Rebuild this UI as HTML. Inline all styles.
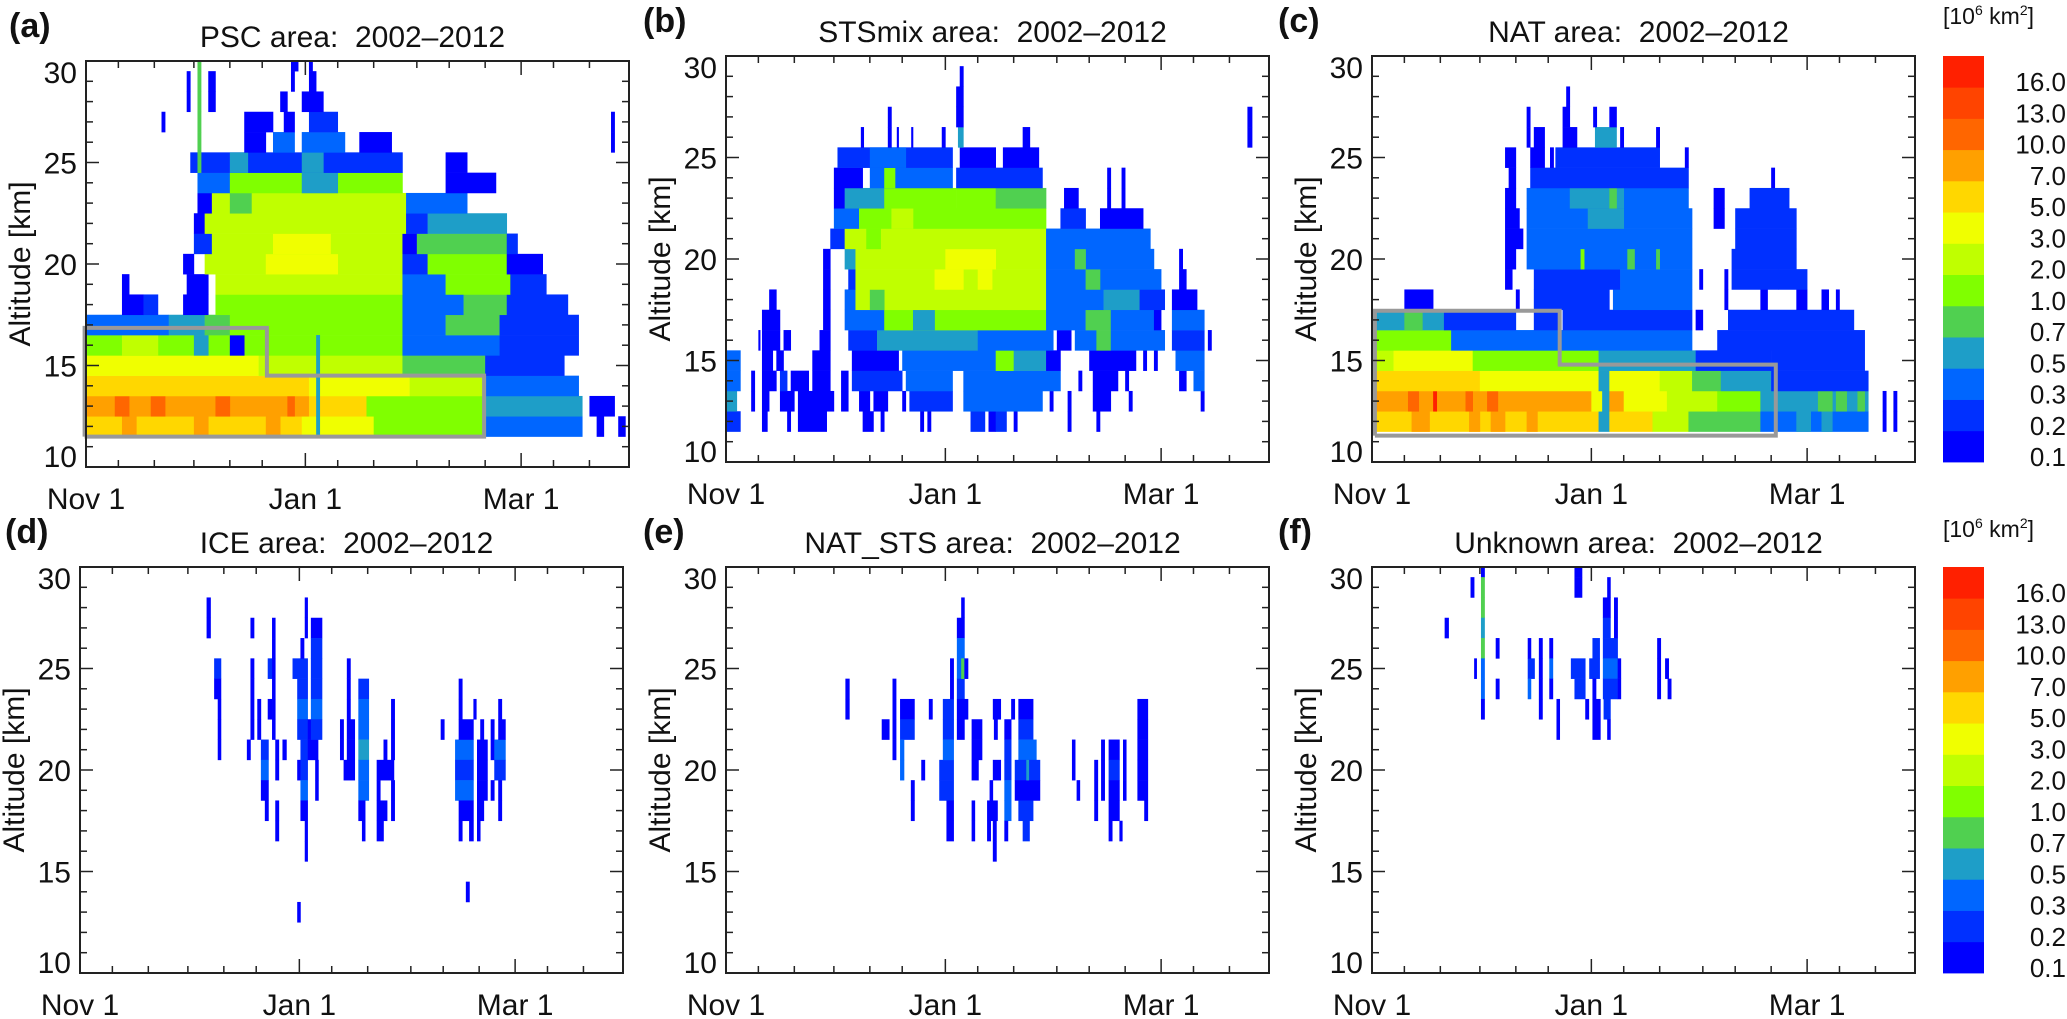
<!DOCTYPE html>
<html><head><meta charset="utf-8">
<style>
html,body{margin:0;padding:0;background:#fff;}
svg{display:block;font-family:"Liberation Sans",Arial,sans-serif;}
</style></head>
<body>
<svg id="fig" width="2067" height="1019" viewBox="0 0 2067 1019" xmlns="http://www.w3.org/2000/svg"></svg>
<script>
// ---------- shared data ----------
const levelLabels = ["0.1","0.2","0.3","0.5","0.7","1.0","2.0","3.0","5.0","7.0","10.0","13.0","16.0"];
const palette = ["#0000ff","#0030ff","#0066ff","#1e9ec8","#50d050","#80ff00","#c0ff00","#f0ff00","#ffd700","#ffa000","#ff6600","#ff4400","#ff2000"];
const xTickDays = [0,9,19,30,40,49,61,70,80,92,101,111,121,130,140];
const xMajorDays = [0,61,121];
const xMajorLabels = ["Nov 1","Jan 1","Mar 1"];
const yTickKm = [10,15,20,25,30];
const titles = ["PSC area:  2002\u20132012","STSmix area:  2002\u20132012","NAT area:  2002\u20132012","ICE area:  2002\u20132012","NAT_STS area:  2002\u20132012","Unknown area:  2002\u20132012"];
const panelLetters = ["(a)","(b)","(c)","(d)","(e)","(f)"];

// cells: [altitude-bin centre km, day start, day end, colour level]
const pscCells = [
[12,0,60,8],[12,10,14,9],[12,30,34,9],[12,50,54,9],[12,60,80,7],[12,80,111,5],[12,111,138,2],[12,142,144,0],[12,148,150,0],
[13,0,62,9],[13,8,12,10],[13,18,22,10],[13,36,40,10],[13,56,58,10],[13,62,78,8],[13,78,111,5],[13,111,138,3],[13,140,147,0],
[14,0,62,8],[14,62,90,7],[14,90,111,6],[14,111,137,2],
[15,0,48,7],[15,48,88,6],[15,88,111,4],[15,111,133,1],
[16,0,49,5],[16,10,20,6],[16,30,34,3],[16,40,44,0],[16,49,88,5],[16,88,115,2],[16,115,137,1],
[17,0,23,2],[17,23,33,3],[17,33,40,4],[17,40,88,5],[17,88,100,2],[17,100,115,4],[17,115,137,1],
[18,10,16,0],[18,16,20,1],[18,27,34,0],[18,36,88,5],[18,88,105,2],[18,105,117,4],[18,117,134,1],
[19,10,12,0],[19,28,34,0],[19,36,88,6],[19,88,100,2],[19,100,118,5],[19,118,128,1],
[20,27,30,0],[20,33,88,6],[20,50,70,7],[20,88,95,1],[20,95,117,5],[20,117,127,0],
[21,30,35,1],[21,35,88,6],[21,52,68,7],[21,88,92,0],[21,92,117,4],[21,117,120,1],
[22,30,33,0],[22,33,89,6],[22,89,95,1],[22,95,117,3],
[23,31,35,0],[23,35,89,6],[23,40,46,4],[23,89,106,2],
[24,31,40,2],[24,40,88,5],[24,60,70,3],[24,100,114,0],
[25,29,88,1],[25,40,45,3],[25,60,66,3],[25,100,106,0],
[26,44,50,0],[26,52,58,2],[26,60,72,2],[26,76,85,0],[26,146,147,0],
[27,21,22,0],[27,44,52,0],[27,55,58,0],[27,62,70,1],[27,146,147,0],
[28,28,29,0],[28,34,36,0],[28,54,56,0],[28,60,66,0],
[29,28,29,0],[29,34,36,0],[29,57,58,0],[29,62,64,0],
[30,57,59,0],[30,62,63,0],
[12,64,65,3],[13,64,65,3],[14,64,65,3],[15,64,65,3],[16,64,65,3],
[25,31,32,4],[26,31,32,4],[27,31,32,4],[28,31,32,4],[29,31,32,4],[30,31,32,4]
];
const stsCells = [
[12,0,4,1],[12,10,11.5,0],[12,17,18,0],[12,20,28,0],[12,38,41,0],[12,43,44,0],[12,54,55,0],[12,56,57,0],[12,68,72,1],[12,73,75,0],[12,75,78,1],[12,80,81,0],[12,95,96,0],[12,103,104,0],
[13,0,3,3],[13,7,8,0],[13,10,12,0],[13,15,19,0],[13,20,30,0],[13,32,34,0],[13,37,40,0],[13,41,45,0],[13,49,50,0],[13,51,63,1],[13,66,88,2],[13,90,91,0],[13,95,96,0],[13,102,107,0],[13,112,113,0],[13,132,133,0],
[14,0,4,2],[14,7,8,0],[14,10,14,0],[14,15,17,1],[14,18,23,0],[14,24,29,0],[14,32,34,0],[14,35,49,1],[14,50,63,2],[14,66,93,2],[14,98,99,0],[14,102,109,0],[14,111,112,0],[14,126,128,0],[14,130,133,2],
[15,0,4,2],[15,10,13,0],[15,14,16,0],[15,24,29,0],[15,35,48,0],[15,49,75,2],[15,75,80,5],[15,80,89,3],[15,89,93,0],[15,101,114,0],[15,116,117,0],[15,119,120,0],[15,125,133,2],
[16,9,9.5,0],[16,10,15,0],[16,16,18,0],[16,26,29,0],[16,34,42,1],[16,42,70,3],[16,70,91,2],[16,92,96,0],[16,97,103,2],[16,103,107,4],[16,107,122,2],[16,124,133,1],[16,134,135,0],
[17,10,15,0],[17,27,29,0],[17,33,44,2],[17,44,89,5],[17,52,58,3],[17,89,100,2],[17,100,107,4],[17,107,119,2],[17,119,121,0],[17,124,133,2],
[18,12,14,0],[18,27,29,0],[18,33,36,2],[18,36,89,6],[18,40,44,4],[18,89,105,2],[18,105,115,3],[18,115,122,1],[18,124,131,0],
[19,27,29,0],[19,34,36,1],[19,36,89,6],[19,58,66,7],[19,70,74,7],[19,89,121,2],[19,100,104,4],[19,126,128,0],
[20,27,29,0],[20,33,36,3],[20,36,89,6],[20,61,75,7],[20,89,119,2],[20,97,100,4],[20,126,127,0],
[21,29,33,1],[21,33,89,6],[21,39,43,5],[21,89,118,2],
[22,30,37,2],[22,37,89,5],[22,46,52,6],[22,93,100,1],[22,104,116,0],
[23,30,33,0],[23,33,44,3],[23,44,64,5],[23,64,75,5],[23,75,89,4],[23,94,98,0],[23,106,107,0],[23,110,111,0],
[24,30,38,0],[24,40,63,2],[24,44,47,5],[24,64,88,1],[24,106,107,0],[24,110,111,0],
[25,31,63,1],[25,40,50,2],[25,65,75,0],[25,77,87,0],
[26,37.5,38.3,0],[26,45,46,0],[26,47.5,48,0],[26,51.5,52,0],[26,60,61,0],[26,64.5,66,3],[26,82.5,84.5,0],[26,145,146.3,0],
[27,45,46,0],[27,64,66,0],[27,145,146.3,0],
[28,64,66,0],[29,65,66,0]
];
const natCells = [
[12,0,63,8],[12,11,16,9],[12,27,30,9],[12,33,37,9],[12,43,46,9],[12,63,66,3],[12,66,78,8],[12,78,88,6],[12,88,108,4],[12,108,138,2],[12,118,122,3],[12,125,128,3],[12,142,143,0],[12,145,146,0],
[13,0,61,9],[13,10,13,10],[13,17,18,12],[13,26,28,10],[13,32,35,10],[13,61,64,7],[13,64,66,3],[13,66,70,9],[13,70,82,7],[13,82,96,6],[13,96,108,5],[13,108,138,3],[13,124,128,4],[13,129,132,4],[13,135,137,4],[13,142,143,0],[13,145,146,0],
[14,0,30,8],[14,30,63,7],[14,63,66,3],[14,66,80,7],[14,80,89,6],[14,89,97,4],[14,97,111,3],[14,111,138,1],
[15,0,6,6],[15,6,28,7],[15,28,63,5],[15,63,90,3],[15,90,111,1],[15,111,137,1],
[16,0,22,5],[16,22,52,2],[16,52,89,2],[16,96,137,1],
[17,0,20,3],[17,9,14,4],[17,20,40,1],[17,45,52,1],[17,53,89,1],[17,90,92,0],[17,99,134,1],
[18,9,17,0],[18,40,41,0],[18,45,66,1],[18,67,89,2],[18,98,99,0],[18,108,110,0],[18,118,121,0],[18,125,127,0],[18,129,130,0],
[19,37,39,0],[19,45,69,1],[19,69,89,2],[19,91,92,0],[19,98,99,0],[19,100,113,1],[19,113,121,1],
[20,37,40,0],[20,43,89,2],[20,58,59,5],[20,71,73,4],[20,79,80,4],[20,100,118,1],
[21,37,42,0],[21,43,89,2],[21,101,118,1],
[22,37,41,0],[22,43,89,2],[22,60,70,3],[22,95,98,0],[22,101,118,1],
[23,37,40,0],[23,43,88,2],[23,55,70,3],[23,66,68,4],[23,95,98,0],[23,105,116,1],
[24,38,40,0],[24,44,88,1],[24,111,112,0],
[25,37,40,0],[25,44,48,0],[25,49.5,50.5,0],[25,51,80,1],[25,87,88,0],
[26,43,44,0],[26,45,48,0],[26,53,57,0],[26,62,68,3],[26,69,70,0],[26,79,80,0],
[27,43,44,0],[27,53,55,0],[27,61.5,62.5,0],[27,66,68,0],
[28,54,55,0]
];
const iceCells = [
[28,35.2,36.3,0],[27,35.2,36.3,0],
[25,37.3,39.2,1],[24,37.3,39.2,0],[23,38.3,39.2,0],[22,38.3,39.2,0],[21,38.3,39.2,0],
[27,47.4,48.4,0],[25,47.4,48.4,0],[24,47.4,48.4,0],[23,47.4,48.4,0],[22,47.4,48.4,0],[21,46.4,47.4,0],
[23,49.3,50.3,0],[22,49.3,50.3,0],
[21,50.3,52.4,1],[20,50.3,52.4,2],[19,50.3,52.4,0],[18,51.4,52.4,0],
[25,52.2,53.4,1],[23,52.2,53.4,0],
[27,53.4,54.3,0],[26,53.4,54.3,0],[25,53.4,54.3,0],[24,53.4,54.3,0],[23,53.4,54.3,0],[22,53.4,54.3,0],
[21,54.3,55.3,0],[20,54.3,55.3,0],[18,54.3,55.3,0],[17,54.3,55.3,0],[21,56.3,57.4,0],
[25,59.1,63.3,1],[24,60.4,63.3,1],[23,60.4,63.3,2],[22,60.4,63.3,1],[26,61.3,62.3,0],[28,62.5,63.3,0],[27,62.5,63.3,0],
[20,60.4,61.3,0],[21,61.3,63.3,1],[20,61.3,63.3,1],[19,61.3,63.3,2],[18,61.3,63.3,0],[17,62.5,63.3,0],[16,62.5,63.3,0],
[22,63.3,66.2,0],[21,63.3,66.2,0],
[27,64.2,67.3,0],[26,64.2,67.3,1],[25,64.2,67.3,1],[24,64.2,67.3,1],[23,64.2,67.3,2],[22,64.2,67.3,1],[20,65.4,66.3,0],[19,65.4,66.3,0],
[13,60.4,61.3,0],
[22,72.3,73.3,0],[21,72.3,73.3,0],[20,73.3,76.4,0],[22,74.2,76.4,0],[21,74.2,76.4,0],[25,74.2,75.2,0],[24,74.2,75.2,0],[23,74.2,75.2,0],
[24,77.4,80.3,1],[23,77.4,80.3,2],[22,77.4,80.3,2],[21,77.4,80.3,3],[20,77.4,80.3,2],[19,77.4,80.3,2],[18,77.4,79.3,0],[17,78.4,79.3,0],
[20,82.5,87.3,0],[19,82.5,83.5,0],[18,82.5,85.4,0],[17,82.5,84.4,0],[21,84.4,85.4,0],
[23,86.5,87.5,0],[22,86.5,87.5,0],[21,86.5,87.5,0],[19,86.5,87.5,0],[18,86.5,87.5,0],
[22,100.3,101.3,0],
[21,104.3,109.4,2],[20,104.3,109.4,1],[19,104.3,109.4,2],[24,105.3,106.3,0],[23,105.3,106.3,0],[22,105.3,109.4,0],[23,109.4,110.2,0],
[18,105.3,109.4,0],[17,105.3,106.3,0],[17,108.2,109.4,0],
[21,110.4,113.3,0],[20,110.4,113.3,0],[19,110.4,113.3,0],[18,110.4,112.3,0],[17,110.4,111.3,0],[22,111.3,112.3,0],
[22,114.2,115.2,0],[21,114.2,115.2,0],[19,114.2,115.2,0],
[21,115.2,118.3,2],[20,115.2,118.3,1],[22,116.3,118.3,0],[23,116.3,117.3,0],[19,116.3,117.3,0],[18,116.3,117.3,0],
[14,107.3,108.3,0]
];
const natStsCells = [
[24,33.2,34.3,0],[23,33.2,34.3,0],
[22,43.3,45.4,0],
[24,46.3,47.3,0],[23,46.3,47.3,0],[22,46.3,47.3,0],[21,46.3,47.3,0],
[23,48.4,52.4,0],[22,48.4,52.4,1],[21,48.4,49.5,2],[20,48.4,49.5,2],
[19,51.4,52.4,0],[18,51.4,52.4,0],
[20,54.3,55.3,0],[23,56.4,57.4,0],
[20,59.3,63.3,1],[19,59.3,63.3,1],[23,60.3,63.3,1],[22,60.3,63.3,1],[21,60.3,63.3,2],
[18,61.3,63.3,0],[17,61.3,63.3,0],[24,62.3,63.3,0],[25,62.3,63.3,0],
[27,64.2,66.3,0],[26,64.2,66.3,2],[25,64.2,66.3,2],[24,64.2,66.3,1],[23,64.2,66.3,0],[22,64.2,66.3,0],[25,65.4,66.2,4],[28,65.4,66.3,0],
[25,66.3,67.3,0],[23,65.4,67.3,0],
[22,68.3,71.2,0],[21,68.3,71.2,0],[20,68.3,70.2,0],[18,68.3,69.2,0],[17,68.3,69.2,0],
[18,72.6,75.5,0],[19,73.3,74.2,0],[17,72.6,73.6,0],[17,74.2,75.2,0],[16,74.2,75.2,0],
[23,74.2,76.4,0],[22,74.5,75.5,0],[20,74.2,76.4,0],
[22,77.4,79.3,0],[21,77.4,79.3,1],[20,77.4,79.3,1],[19,77.4,79.3,2],[18,77.4,79.3,2],[17,77.4,78.4,0],[23,79.3,80.3,0],
[23,81.3,85.4,0],[22,81.3,85.4,1],[21,81.3,86.3,2],[20,80.3,87.3,1],[19,80.3,87.3,0],[20,83.5,84.2,3],[18,81.3,85.4,1],[17,82.5,84.4,1],
[21,96.2,97.1,0],[20,96.2,97.1,0],[19,97.5,98.4,0],
[20,102.4,103.4,0],[19,102.4,103.4,0],[18,102.4,103.4,0],
[21,104.3,105.3,0],[20,104.3,105.3,0],[19,104.3,105.3,0],
[21,106.4,109.4,0],[20,106.4,109.4,1],[19,106.4,109.4,0],[18,106.4,109.4,0],[17,106.4,107.4,0],[17,109.4,110.2,0],
[21,110.4,111.3,0],[20,110.4,111.3,0],[19,110.4,111.3,0],
[23,114.4,117.3,0],[22,114.4,117.3,0],[21,114.4,117.3,0],[20,114.4,117.3,0],[19,114.4,117.3,0],[18,116.3,117.3,0]
];
const unknownCells = [
[30,30.3,31.3,0],[29,30.3,31.3,4],[28,30.3,31.3,4],[27,30.3,31.3,3],[26,30.3,31.3,4],[25,30.3,31.3,2],[24,30.3,31.3,2],[23,30.3,31.3,0],
[29,27.4,28.4,0],[27,20.2,21.3,0],[25,28.4,29.1,0],
[26,34.4,35.4,0],[24,34.4,35.4,0],
[25,43.3,45.2,1],[26,43.3,44.2,0],[24,43.3,44.2,2],
[26,46.4,47.4,0],[25,46.4,47.4,0],[24,46.4,47.4,0],[23,46.4,47.4,0],
[26,49.3,50.3,0],[25,49.3,50.3,2],[24,49.3,50.3,0],
[23,51.3,52.2,0],[22,51.3,52.2,0],
[25,55.3,59.3,1],[24,56.3,59.3,1],[30,56.3,58.4,0],[29,56.3,58.4,0],
[23,59.3,60.3,0],
[25,60.4,63.3,1],[26,61.3,63.3,1],[24,61.3,62.3,0],[23,61.3,63.5,0],[22,61.3,63.5,0],
[26,64.2,68.3,1],[25,64.2,68.3,2],[24,64.2,68.3,1],[28,64.2,66.3,0],[27,64.2,66.3,1],[29,65.4,66.3,0],[28,67.3,68.3,0],[27,67.3,68.3,0],
[23,64.4,66.3,1],[22,65.4,66.3,0],
[25,68.3,69.2,0],[24,68.3,69.2,0],
[26,79.3,80.3,0],[25,79.3,80.3,0],[24,79.3,80.3,0],
[25,81.5,82.5,0],[24,82.2,83.2,0]
];
// grey boxes: [day, km] vertices
const pscBox = [[-0.4,11.5],[-0.4,16.85],[50.3,16.85],[50.3,14.5],[110.7,14.5],[110.7,11.5],[-0.4,11.5]];
const natBox = [[0.8,11.3],[0.8,17.45],[52.2,17.45],[52.2,14.8],[112.3,14.8],[112.3,11.3],[0.8,11.3]];

// ---------- layout ----------
const DAYS = 151;
const panels = [
 {id:"psc", cells:pscCells, box:pscBox, x0:86, x1:629, y0:61, y1:467, lx:9},
 {id:"stsmix", cells:stsCells, box:null, x0:726, x1:1269, y0:56, y1:462, lx:643},
 {id:"nat", cells:natCells, box:natBox, x0:1372, x1:1915, y0:56, y1:462, lx:1278},
 {id:"ice", cells:iceCells, box:null, x0:80, x1:623, y0:567, y1:973, lx:5},
 {id:"nat-sts", cells:natStsCells, box:null, x0:726, x1:1269, y0:567, y1:973, lx:643},
 {id:"unknown", cells:unknownCells, box:null, x0:1372, x1:1915, y0:567, y1:973, lx:1278}
];
const NS = "http://www.w3.org/2000/svg";
const svg = document.getElementById("fig");
function mk(tag, attrs, parent){
  const e = document.createElementNS(NS, tag);
  for (const k in attrs) e.setAttribute(k, attrs[k]);
  (parent||svg).appendChild(e);
  return e;
}
panels.forEach((p, i) => {
  const xs = d => p.x0 + (d/DAYS)*(p.x1-p.x0);
  const ys = km => p.y1 - ((km-10)/20)*(p.y1-p.y0);
  const g = mk("g", {});
  
  
  const clipId = "clip" + i;
  const cp = mk("clipPath", {id: clipId}, g);
  mk("rect", {x:p.x0, y:p.y0, width:p.x1-p.x0, height:p.y1-p.y0}, cp);
  const cg = mk("g", {"clip-path":"url(#"+clipId+")"}, g);
  
  
  p.cells.forEach(c => {
    const xa = xs(c[1]), xb = xs(c[2]);
    const ya = ys(c[0]+0.5), yb = ys(c[0]-0.5);
    const r = mk("rect", {x:xa.toFixed(2), y:ya.toFixed(2), width:(xb-xa+0.3).toFixed(2), height:(yb-ya+0.3).toFixed(2), fill:palette[c[3]]}, cg);
    
    
  });
  if (p.box) {
    const pl = mk("polyline", {points:p.box.map(v => xs(v[0]).toFixed(1)+","+ys(v[1]).toFixed(1)).join(" "), fill:"none", stroke:"#999", "stroke-width":4, "stroke-linejoin":"miter"}, g);
    
    
  }
  const fr = mk("rect", {x:p.x0, y:p.y0, width:p.x1-p.x0, height:p.y1-p.y0, fill:"none", stroke:"#222", "stroke-width":2}, g);
  
  
  xTickDays.forEach(d => {
    const x = xs(d); const L = xMajorDays.includes(d) ? 14 : 7;
    mk("line", {x1:x, x2:x, y1:p.y1, y2:p.y1-L, stroke:"#222", "stroke-width":1.5}, g);
    mk("line", {x1:x, x2:x, y1:p.y0, y2:p.y0+L, stroke:"#222", "stroke-width":1.5}, g);
  });
  for (let km = 10; km <= 30; km++) {
    const y = ys(km); const L = km % 5 === 0 ? 13 : 7;
    mk("line", {x1:p.x0, x2:p.x0+L, y1:y, y2:y, stroke:"#222", "stroke-width":1.5}, g);
    mk("line", {x1:p.x1, x2:p.x1-L, y1:y, y2:y, stroke:"#222", "stroke-width":1.5}, g);
  }
  xMajorDays.forEach((d, k) => {
    const t = mk("text", {x:xs(d), y:p.y1+42, "font-size":30, "text-anchor":"middle", fill:"#111"}, g);
    t.textContent = xMajorLabels[k];
    
    
  });
  yTickKm.forEach(km => {
    let by = ys(km) + 11;
    if (km === 30) by = p.y0 + 22;
    if (km === 10) by = p.y1;
    const t = mk("text", {x:p.x0-9, y:by, "font-size":30, "text-anchor":"end", fill:"#111"}, g);
    t.textContent = String(km);
    
    
  });
  const yt = mk("text", {x:0, y:0, "font-size":30, "text-anchor":"middle", fill:"#111", transform:"translate("+(p.x0-56)+","+((p.y0+p.y1)/2)+") rotate(-90)"}, g);
  yt.textContent = "Altitude [km]";
  
  
  const tt = mk("text", {x:(p.x0+p.x1)/2 - 5, y:p.y0 - 14, "font-size":30, "text-anchor":"middle", fill:"#111"}, g);
  tt.textContent = titles[i];
  tt.style.whiteSpace = "pre";
  
  
  const pl2 = mk("text", {x:p.lx, y:p.y0 - 24, "font-size":34, "font-weight":"bold", fill:"#111"}, g);
  pl2.textContent = panelLetters[i];
  
  
});
// colorbars
[[56,462,24],[567,973,537]].forEach((cb, j) => {
  const g = mk("g", {});
  
  
  const top = cb[0], bot = cb[1], h = (bot-top)/palette.length;
  palette.forEach((col, k) => {
    const r = mk("rect", {x:1943, y:(bot-(k+1)*h).toFixed(2), width:41, height:(h+0.4).toFixed(2), fill:col}, g);
    
    
  });
  levelLabels.forEach((lab, k) => {
    const t = mk("text", {x:2066, y:(bot - k*h + 4).toFixed(1), "font-size":26, "text-anchor":"end", fill:"#111"}, g);
    t.textContent = lab;
    
    
  });
  const u = mk("text", {x:1943, y:cb[2], "font-size":23, fill:"#111"}, g);
  u.innerHTML = '[10<tspan dy="-9" font-size="14">6</tspan><tspan dy="9"> km</tspan><tspan dy="-9" font-size="14">2</tspan><tspan dy="9">]</tspan>';
  
  
});
</script>
</body></html>
